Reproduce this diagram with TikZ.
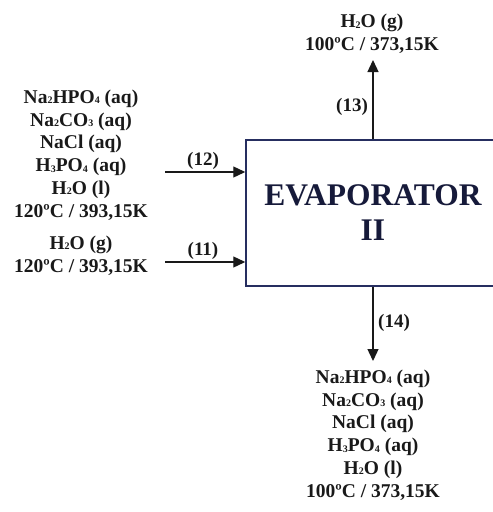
\documentclass[tikz,border=0pt]{standalone}
\usepackage{fontspec}
\setmainfont{Liberation Serif}
\usetikzlibrary{arrows.meta}
\definecolor{navy}{RGB}{38,46,96}
\definecolor{evtext}{RGB}{22,26,58}
\definecolor{ink}{RGB}{25,25,25}
\tikzset{
  stream/.style={draw=ink, line width=1.3pt, -{Triangle[length=12pt,width=11pt]}},
  txt/.style={align=center, inner sep=0pt, text=ink, font=\bfseries\fontsize{19.5}{22.8}\selectfont},
  lbl/.style={inner sep=0pt, text=ink, font=\bfseries\fontsize{19}{22.8}\selectfont},
  unit/.style={draw=navy, line width=1.5pt, minimum width=254pt, minimum height=146pt, inner sep=0pt,
    align=center, text=evtext, font=\bfseries\fontsize{31.5}{36}\selectfont}
}
\newcommand{\sub}[1]{\raisebox{-0.5pt}{\fontsize{10}{10}\selectfont #1}}
\begin{document}
\begin{tikzpicture}[x=1pt,y=-1pt]
\useasboundingbox (0,0) rectangle (493,512);
\clip (0,0) rectangle (493,512);
\node[unit] (evap) at (373,213) {EVAPORATOR\\[-1pt]II};
% top
\coordinate (topend) at (373,60);
\draw[stream] (evap.north) -- (topend);
\node[lbl] (l13) at (352,107) {(13)};
\node[txt] (top) at (372,34) {H\sub{2}O (g)\\100ºC / 373,15K};
% bottom
\coordinate (botend) at (373,361);
\draw[stream] (evap.south) -- (botend);
\node[lbl] (l14) at (394,323) {(14)};
\node[txt] (bot) at (373,435) {Na\sub{2}HPO\sub{4} (aq)\\Na\sub{2}CO\sub{3} (aq)\\NaCl (aq)\\H\sub{3}PO\sub{4} (aq)\\H\sub{2}O (l)\\100ºC / 373,15K};
% left 12
\coordinate (s12) at (165,172);
\draw[stream] (s12) -- (evap.west |- s12);
\node[lbl] (l12) at (203,161) {(12)};
\node[txt] (left12) at (81,155) {Na\sub{2}HPO\sub{4} (aq)\\Na\sub{2}CO\sub{3} (aq)\\NaCl (aq)\\H\sub{3}PO\sub{4} (aq)\\H\sub{2}O (l)\\120ºC / 393,15K};
% left 11
\coordinate (s11) at (165,262);
\draw[stream] (s11) -- (evap.west |- s11);
\node[lbl] (l11) at (203,251) {(11)};
\node[txt] (left11) at (81,255.5) {H\sub{2}O (g)\\120ºC / 393,15K};
\end{tikzpicture}
\end{document}
